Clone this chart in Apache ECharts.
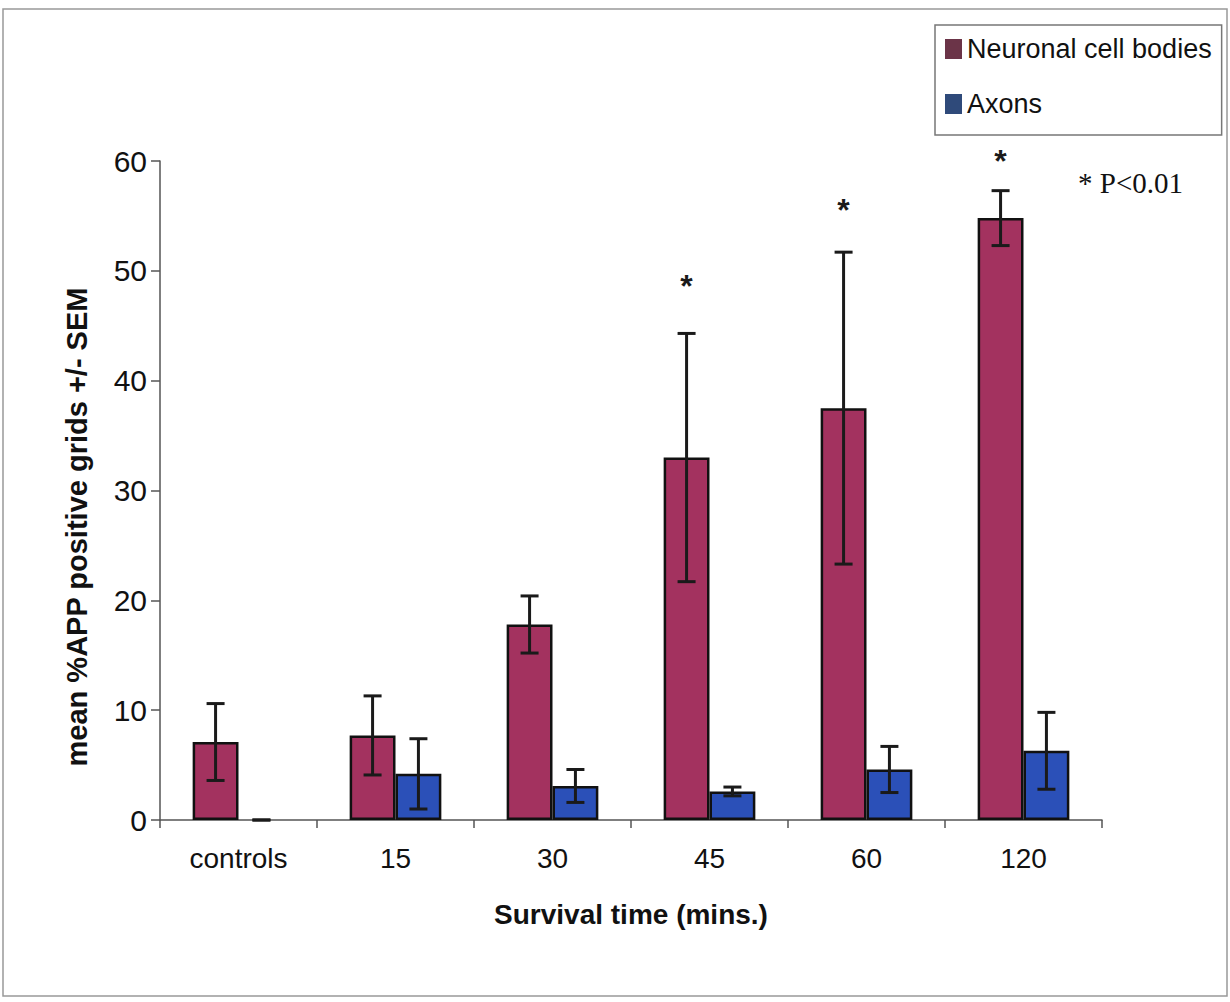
<!DOCTYPE html>
<html>
<head>
<meta charset="utf-8">
<script src="https://cdn.jsdelivr.net/npm/echarts@6/dist/echarts.min.js"></script>
<style>
  html, body { margin: 0; padding: 0; background: #fff; }
  #chart { width: 1230px; height: 1002px; }
</style>
</head>
<body>
<div id="chart"></div>
<script>
// data
var categories = ['controls', '15', '30', '45', '60', '120'];
var neuronal = [7.1, 7.7, 17.8, 33.0, 37.5, 54.8];
var neuronalErr = [3.5, 3.6, 2.6, 11.3, 14.2, 2.5];
var axons = [0, 4.2, 3.1, 2.6, 4.6, 6.3];
var axonsErr = [0, 3.2, 1.5, 0.4, 2.1, 3.5];
var starY = [null, null, null, 48.6, 55.5, 60.0]; // "*" marks over neuronal bars
var yTicks = [0, 10, 20, 30, 40, 50, 60];

var FONT = '"Liberation Sans", Arial, sans-serif';
var colNeuro = '#a3325f';
var colAxon = '#2b50b8';
var barShift = 0.146; // half a bar width, as part of the category band

// error bars: vertical line + two caps
function errSeries(vals, errs, sign) {
  return {
    type: 'custom',
    z: 10,
    silent: true,
    renderItem: function (params, api) {
      var i = api.value(0), v = api.value(1), e = api.value(2);
      var band = api.size([1, 0])[0];
      var hi = api.coord([i, v + e]);
      var lo = api.coord([i, v - e]);
      var cx = hi[0] + sign * band * barShift;
      var hw = 9;
      var st = { stroke: '#1a1a1a', lineWidth: 3 };
      return {
        type: 'group',
        children: [
          { type: 'line', shape: { x1: cx, y1: hi[1], x2: cx, y2: lo[1] }, style: st },
          { type: 'line', shape: { x1: cx - hw, y1: hi[1], x2: cx + hw, y2: hi[1] }, style: st },
          { type: 'line', shape: { x1: cx - hw, y1: lo[1], x2: cx + hw, y2: lo[1] }, style: st }
        ]
      };
    },
    data: vals.map(function (v, i) { return [i, v, errs[i]]; })
  };
}

var chart = echarts.init(document.getElementById('chart'), null, { renderer: 'svg' });
chart.setOption({
  backgroundColor: '#fff',
  animation: false,
  textStyle: { fontFamily: FONT },
  grid: { left: 160, right: 128, top: 161, bottom: 182, outerBoundsMode: 'none' },
  legend: {
    orient: 'vertical',
    left: 935,
    top: 25,
    width: 290,
    padding: [9, 10, 16, 10],
    borderColor: '#777',
    borderWidth: 1.5,
    itemWidth: 17,
    itemHeight: 20,
    itemGap: 25,
    itemStyle: { borderWidth: 0 },
    textStyle: { fontSize: 27, color: '#111', fontFamily: FONT, lineHeight: 30 },
    data: [
      { name: 'Neuronal cell bodies', icon: 'rect', itemStyle: { color: '#6b3448' } },
      { name: 'Axons', icon: 'rect', itemStyle: { color: '#2f4a7a' } }
    ]
  },
  xAxis: {
    type: 'category',
    data: categories,
    name: 'Survival time (mins.)',
    nameLocation: 'middle',
    nameGap: 80,
    nameTextStyle: { fontSize: 28, fontWeight: 'bold', color: '#111', fontFamily: FONT },
    axisLine: { lineStyle: { color: '#555', width: 1.5 } },
    axisTick: { show: true, length: 8, lineStyle: { color: '#555', width: 1.5 } },
    axisLabel: { fontSize: 28, color: '#111', margin: 24 }
  },
  yAxis: {
    type: 'value',
    min: yTicks[0],
    max: yTicks[yTicks.length - 1],
    interval: 10,
    splitLine: { show: false },
    axisLine: { show: true, lineStyle: { color: '#555', width: 1.5 } },
    axisTick: { show: true, length: 9, lineStyle: { color: '#555', width: 1.5 } },
    axisLabel: { fontSize: 30, color: '#111', margin: 13 }
  },
  series: [
    {
      name: 'Neuronal cell bodies',
      type: 'bar',
      barWidth: '29.2%',
      barGap: '0%',
      itemStyle: { color: colNeuro, borderColor: '#111', borderWidth: 2.5 },
      data: neuronal
    },
    {
      name: 'Axons',
      type: 'bar',
      barWidth: '29.2%',
      barGap: '0%',
      itemStyle: { color: colAxon, borderColor: '#111', borderWidth: 2.5 },
      data: axons.map(function (v) {
        return v === 0 ? { value: v, itemStyle: { borderWidth: 0 } } : v;
      })
    },
    errSeries(neuronal, neuronalErr, -1),
    errSeries(axons, axonsErr, 1),
    {
      type: 'custom',
      z: 11,
      silent: true,
      renderItem: function (params, api) {
        var i = api.value(0);
        var p = api.coord([i, api.value(1)]);
        var band = api.size([1, 0])[0];
        return {
          type: 'text',
          x: p[0] - band * barShift,
          y: p[1],
          style: {
            text: '*', font: 'bold 32px ' + FONT, fill: '#1a1a1a',
            textAlign: 'center', textVerticalAlign: 'middle'
          }
        };
      },
      data: starY.map(function (v, i) { return v == null ? null : [i, v]; }).filter(function (d) { return d; })
    }
  ],
  graphic: [
    {
      type: 'rect',
      shape: { x: 3, y: 9, width: 1224, height: 987 },
      style: { fill: 'none', stroke: '#999', lineWidth: 1.5 },
      silent: true, z: -1
    },
    {
      type: 'text',
      x: 77, y: 527,
      rotation: Math.PI / 2,
      style: {
        text: 'mean %APP positive grids +/- SEM',
        font: 'bold 29px ' + FONT, fill: '#111',
        textAlign: 'center', textVerticalAlign: 'middle'
      }
    },
    {
      type: 'text',
      x: 1078, y: 183,
      style: {
        text: '* P<0.01',
        font: '29px "Liberation Serif", "Times New Roman", serif', fill: '#111',
        textAlign: 'left', textVerticalAlign: 'middle'
      }
    }
  ]
});
</script>
</body>
</html>
